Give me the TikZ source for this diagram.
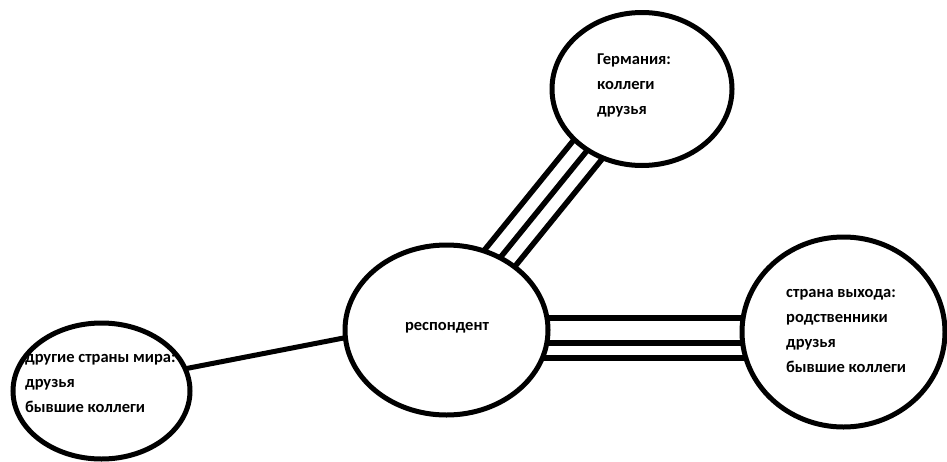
\documentclass[tikz,border=0pt]{standalone}
\usepackage{fontspec}
\setmainfont{Carlito}
\usetikzlibrary{shapes.geometric}
\pgfdeclarelayer{bg}
\pgfsetlayers{bg,main}
\begin{document}
\begin{tikzpicture}[x=1pt,y=-1pt,
  bubble/.style={draw=black,fill=white,ellipse,line width=5pt,inner sep=0pt},
  label/.style={font=\fontsize{16.5}{25}\selectfont\bfseries,align=left,inner sep=0pt,anchor=north west},
  link/.style={line width=5.5pt,draw=black}]
\useasboundingbox (0,0) rectangle (947,461);
\node[bubble,minimum width=203pt,minimum height=170pt] (resp) at (446.5,330) {};
\node[bubble,minimum width=180pt,minimum height=153pt] (germ) at (642,89) {};
\node[bubble,minimum width=203pt,minimum height=190pt] (exit) at (843.5,332) {};
\node[bubble,minimum width=177pt,minimum height=136pt] (other) at (101.5,391) {};
\node[font=\fontsize{16.5}{25}\selectfont\bfseries,inner sep=0pt,anchor=base] (tresp) at (447,330) {респондент};
\node[label] (tgerm) at (597,54) {Германия:\\коллеги\\друзья};
\node[label] (texit) at (786,289) {страна выхода:\\родственники\\друзья\\бывшие коллеги};
\node[label] (tother) at (25,354) {другие страны мира:\\друзья\\бывшие коллеги};
\begin{pgfonlayer}{bg}
\fill[white] (0,0) rectangle (947,461);
\draw[link] ([xshift=-5pt]resp.center) -- ([xshift=-5pt]germ.center);
\draw[link] ([shift={(8.2pt,-10.7pt)}]resp.center) -- ([shift={(8.2pt,-10.7pt)}]germ.center);
\draw[link] ([shift={(-18.2pt,10.7pt)}]resp.center) -- ([shift={(-18.2pt,10.7pt)}]germ.center);
\draw[link] ([yshift=12pt]resp.center) -- ([yshift=12pt]resp.center -| exit.center);
\draw[link] ([yshift=-13pt]resp.center) -- ([yshift=-13pt]resp.center -| exit.center);
\draw[link] ([yshift=-28pt]resp.center) -- ([yshift=-28pt]resp.center -| exit.center);
\draw[link,line width=5pt] ([yshift=6pt]other.center) -- ([yshift=12pt]resp.center);
\end{pgfonlayer}
\end{tikzpicture}
\end{document}
